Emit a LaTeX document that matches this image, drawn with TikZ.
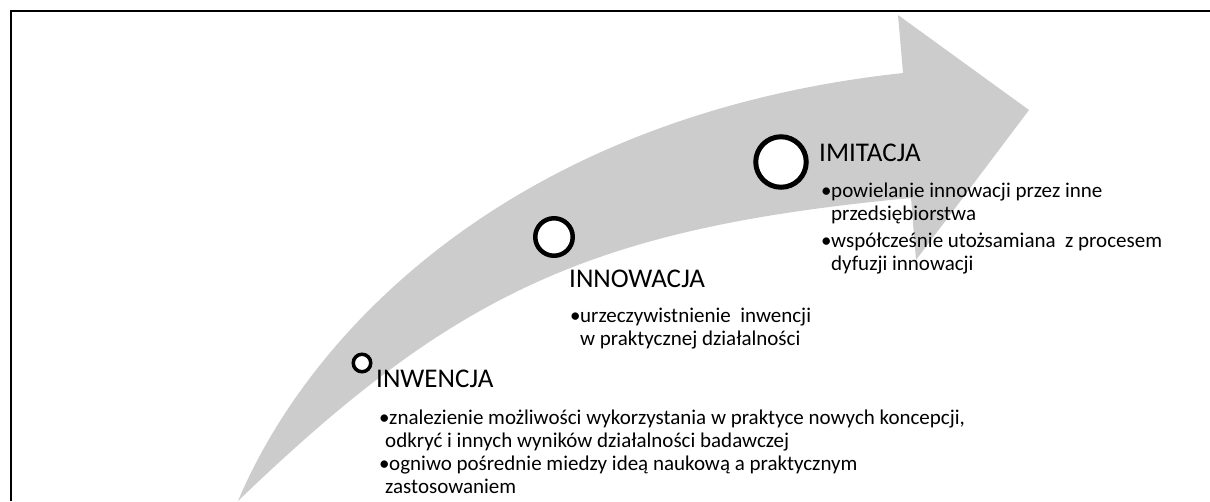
\documentclass[tikz,border=0pt]{standalone}
\usepackage{fontspec}
\setmainfont{Carlito}
\definecolor{arrowgray}{RGB}{204,204,204}
\newcommand{\bul}{\makebox[10pt][l]{\textbullet}}
\begin{document}
\begin{tikzpicture}[x=1pt,y=-1pt,
  ring/.style={circle,draw=black,fill=white,inner sep=0pt},
  heading/.style={anchor=base west,inner sep=0pt,font=\fontsize{27}{31}\selectfont},
  items/.style={anchor=base west,inner sep=0pt,font=\fontsize{21}{23}\selectfont}]
\useasboundingbox (0,0) rectangle (1210,501);
% frame edges
\draw[line width=2.2] (11,501) -- (11,11) -- (1210,11);
% curved arrow
\fill[arrowgray] (238,501) .. controls (310,330) and (515,115) .. (903,73)
  -- (898,15) -- (1029,110) -- (916,260) -- (911,198)
  .. controls (592,228) and (455,292) .. (238,501) -- cycle;
% stage markers
\node[ring,line width=3.5,minimum size=17.5] (c1) at (362,363) {};
\node[ring,line width=4.5,minimum size=37.5] (c2) at (554,237) {};
\node[ring,line width=5,minimum size=50.5] (c3) at (781,162) {};
% headings
\node[heading] (h1) at (376,387) {INWENCJA};
\node[heading] (h2) at (569,287) {INNOWACJA};
\node[heading] (h3) at (819,161) {IMITACJA};
% descriptions
\node[items] (t1) at (379,424) {\begin{tabular}[t]{@{}l@{}}
\bul znalezienie możliwości wykorzystania w praktyce nowych koncepcji,\\
\hspace{6pt}odkryć i innych wyników działalności badawczej\\
\bul ogniwo pośrednie miedzy ideą naukową a praktycznym\\
\hspace{6pt}zastosowaniem
\end{tabular}};
\node[items] (t2) at (570,322) {\begin{tabular}[t]{@{}l@{}}
\bul urzeczywistnienie\ \ inwencji\\
\hspace{10pt}w praktycznej działalności
\end{tabular}};
\node[items] (t3) at (821,197) {\begin{tabular}[t]{@{}l@{}}
\bul powielanie innowacji przez inne\\
\hspace{10pt}przedsiębiorstwa\\[4pt]
\bul współcześnie utożsamiana\ \ z procesem\\
\hspace{10pt}dyfuzji innowacji
\end{tabular}};
\end{tikzpicture}
\end{document}
